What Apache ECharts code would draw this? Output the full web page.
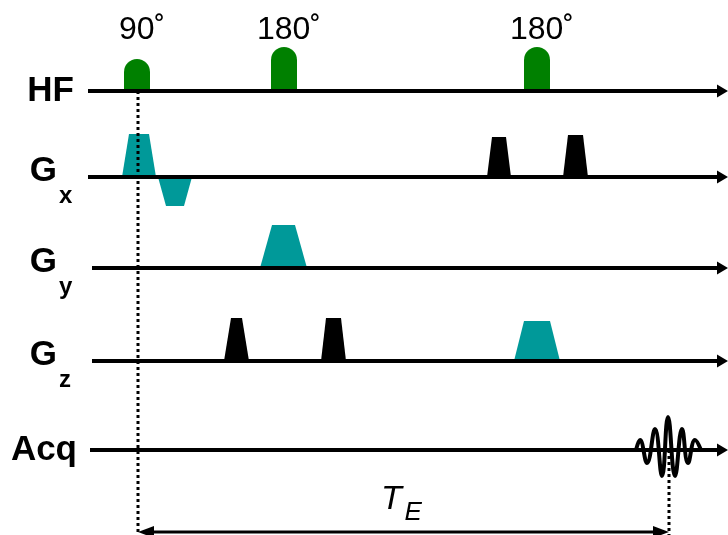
<!DOCTYPE html>
<html>
<head>
<meta charset="utf-8">
<script src="https://cdn.jsdelivr.net/npm/echarts@6/dist/echarts.min.js"></script>
<style>html,body{margin:0;padding:0;background:#fff;}#c{width:728px;height:535px;}</style>
</head>
<body>
<div id="c"></div>
<script>
// ---- data (time axis units, amplitude units) ----
const channels = ['HF', 'Gx', 'Gy', 'Gz', 'Acq'];
const channelNames = [['HF', ''], ['G', 'x'], ['G', 'y'], ['G', 'z'], ['Acq', '']];
const channelLevel = [91, 177, 268, 361, 450];
const channelStart = [88, 88, 92, 92, 90];
const timeEnd = 728;

// RF pulses (HF channel)
const rfStart = [124, 271, 524];
const rfEnd = [150, 297, 550];
const rfAmp = [32, 44, 44];
const rfLabels = ['90˚', '180˚', '180˚'];

// gradient lobes
const gradChannel = [1, 1, 1, 1, 2, 3, 3, 3];
const gradStart = [122, 158, 487, 563, 260, 224, 321, 514];
const gradEnd = [156, 192, 511, 588, 307, 249, 346, 560];
const gradRamp = [7, 8, 5, 5, 12, 7, 5, 10];
const gradAmp = [43, -29, 40, 42, 43, 43, 43, 40];
const gradKind = ['imaging', 'imaging', 'crusher', 'crusher', 'imaging', 'crusher', 'crusher', 'imaging'];

// echo signal extremes (Acq channel)
const echoT = [636, 640, 647, 655, 662, 668, 675, 682, 688, 695, 701];
const echoA = [0, 10, -13, 21, -26, 33, -26, 21, -13, 10, 0];

// echo time
const teStart = 138;
const teEnd = 669;
const teLabel = ['T', 'E'];

// ---- styling ----
const GREEN = '#008000';
const TEAL = '#009999';
const BLACK = '#000000';
const kindColor = { imaging: TEAL, crusher: BLACK };
const FONT = '"Liberation Sans", Arial, sans-serif';

const chart = echarts.init(document.getElementById('c'), null, { renderer: 'canvas' });

const gradData = gradStart.map((s, i) => [gradChannel[i], s, gradEnd[i], gradRamp[i], gradAmp[i], i]);
const rfData = rfStart.map((s, i) => [s, rfEnd[i], rfAmp[i], i]);
const axisData = channels.map((c, i) => [channelStart[i], timeEnd, channelLevel[i], i]);
const echoData = echoT.map((t, i) => [t, channelLevel[4] - echoA[i]]);
const TE_Y = 532;

const option = {
  animation: false,
  backgroundColor: '#fff',
  grid: { left: 0, right: 0, top: 0, bottom: 0 },
  xAxis: { type: 'value', min: 0, max: 728, show: false },
  yAxis: { type: 'value', min: 0, max: 535, inverse: true, show: false },
  series: [
    // gradient lobes
    {
      type: 'custom', z: 2, data: gradData,
      renderItem: (params, api) => {
        const ch = api.value(0), s = api.value(1), e = api.value(2), r = api.value(3), a = api.value(4);
        const lv = channelLevel[ch];
        const pts = [[s, lv], [s + r, lv - a], [e - r, lv - a], [e, lv]].map(p => api.coord(p));
        return { type: 'polygon', shape: { points: pts }, style: { fill: kindColor[gradKind[api.value(5)]] } };
      }
    },
    // RF pulses
    {
      type: 'custom', z: 2, data: rfData,
      renderItem: (params, api) => {
        const s = api.value(0), e = api.value(1), a = api.value(2);
        const lv = channelLevel[0];
        const p0 = api.coord([s, lv - a]);
        const p1 = api.coord([e, lv]);
        const w = p1[0] - p0[0], h = p1[1] - p0[1];
        return {
          type: 'group',
          children: [
            { type: 'rect', shape: { x: p0[0], y: p0[1], width: w, height: h, r: [w / 2, w / 2, 0, 0] }, style: { fill: GREEN } },
            { type: 'text', x: (p0[0] + p1[0]) / 2 + 5, y: api.coord([0, 30])[1],
              style: { text: rfLabels[api.value(3)], font: '32px ' + FONT, fill: BLACK, align: 'center', verticalAlign: 'middle' } }
          ]
        };
      }
    },
    // channel axes with arrows and labels
    {
      type: 'custom', z: 3, data: axisData,
      renderItem: (params, api) => {
        const i = api.value(3);
        const a = api.coord([api.value(0), api.value(2)]);
        const b = api.coord([api.value(1), api.value(2)]);
        const name = channelNames[i];
        const children = [
          { type: 'line', shape: { x1: a[0], y1: a[1], x2: b[0] - 8, y2: b[1] }, style: { stroke: BLACK, lineWidth: 4 } },
          { type: 'polygon', shape: { points: [[b[0] - 11, b[1] - 6.5], [b[0], b[1]], [b[0] - 11, b[1] + 6.5]] }, style: { fill: BLACK } }
        ];
        if (name[1]) {
          children.push({ type: 'text', x: 57, y: a[1] - 6, style: { text: name[0], font: 'bold 35px ' + FONT, fill: BLACK, align: 'right', verticalAlign: 'middle' } });
          children.push({ type: 'text', x: 59, y: a[1] + 19, style: { text: name[1], font: 'bold 24px ' + FONT, fill: BLACK, align: 'left', verticalAlign: 'middle' } });
        } else {
          children.push({ type: 'text', x: name[0] === 'HF' ? 74 : 77, y: a[1], style: { text: name[0], font: 'bold 35px ' + FONT, fill: BLACK, align: 'right', verticalAlign: 'middle' } });
        }
        return { type: 'group', children };
      }
    },
    // echo signal
    {
      type: 'line', z: 4, data: echoData, smooth: 0.45, symbol: 'none',
      lineStyle: { color: BLACK, width: 4 }
    },
    // TE markers
    {
      type: 'custom', z: 5, data: [[teStart, teEnd]],
      renderItem: (params, api) => {
        const s = api.value(0), e = api.value(1);
        const top1 = api.coord([s, channelLevel[0]]);
        const top2 = api.coord([e, channelLevel[4]]);
        const l = api.coord([s, TE_Y]);
        const r = api.coord([e, TE_Y]);
        const mid = (l[0] + r[0]) / 2;
        return {
          type: 'group',
          children: [
            { type: 'line', shape: { x1: top1[0], y1: top1[1], x2: l[0], y2: l[1] + 3 }, style: { stroke: BLACK, lineWidth: 3, lineDash: [3, 3] } },
            { type: 'line', shape: { x1: top2[0], y1: top2[1], x2: r[0], y2: r[1] + 3 }, style: { stroke: BLACK, lineWidth: 3, lineDash: [3, 3] } },
            { type: 'line', shape: { x1: l[0] + 10, y1: l[1], x2: r[0] - 10, y2: r[1] }, style: { stroke: BLACK, lineWidth: 3 } },
            { type: 'polygon', shape: { points: [[l[0], l[1]], [l[0] + 16, l[1] - 6], [l[0] + 16, l[1] + 6]] }, style: { fill: BLACK } },
            { type: 'polygon', shape: { points: [[r[0], r[1]], [r[0] - 16, r[1] - 6], [r[0] - 16, r[1] + 6]] }, style: { fill: BLACK } },
            { type: 'text', x: mid - 12, y: 500, style: { text: teLabel[0], font: 'italic 34px ' + FONT, fill: BLACK, align: 'center', verticalAlign: 'middle' } },
            { type: 'text', x: mid + 1, y: 513, style: { text: teLabel[1], font: 'italic 26px ' + FONT, fill: BLACK, align: 'left', verticalAlign: 'middle' } }
          ]
        };
      }
    }
  ]
};
chart.setOption(option);
</script>
</body>
</html>
